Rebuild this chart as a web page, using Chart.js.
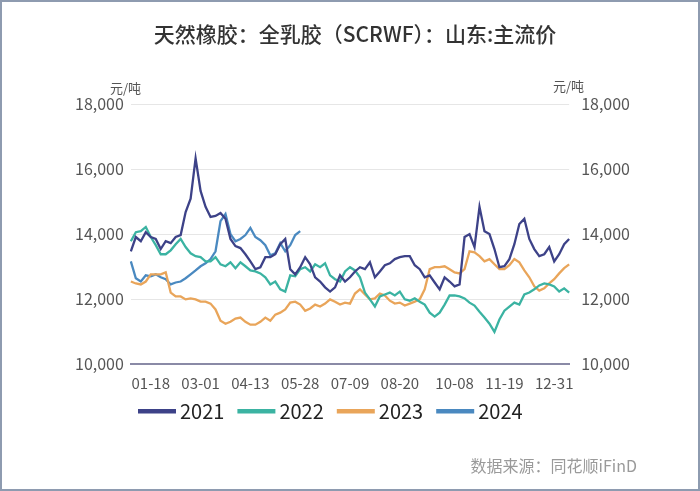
<!DOCTYPE html>
<html>
<head>
<meta charset="utf-8">
<script src="https://cdn.jsdelivr.net/npm/chart.js@4"></script>
<style>
  html, body { margin: 0; padding: 0; background: #fff; }
  #wrap { width: 700px; height: 491px; position: relative; }
</style>
</head>
<body>
<div id="wrap"><canvas id="main-chart" width="700" height="491"></canvas></div>
<script>
const categories = [
  "01-04", "01-07", "01-11", "01-14", "01-18",
  "01-22", "01-26", "01-30", "02-03", "02-08", "02-12", "02-16", "02-20", "02-25", "03-01",
  "03-05", "03-09", "03-14", "03-18", "03-22", "03-27", "03-31", "04-04", "04-09", "04-13",
  "04-17", "04-22", "04-26", "05-01", "05-05", "05-10", "05-14", "05-19", "05-23", "05-28",
  "06-01", "06-05", "06-10", "06-14", "06-18", "06-22", "06-26", "07-01", "07-05", "07-09",
  "07-13", "07-17", "07-22", "07-26", "07-30", "08-03", "08-07", "08-12", "08-16", "08-20",
  "08-24", "08-29", "09-02", "09-06", "09-11", "09-15", "09-19", "09-24", "09-28", "10-03", "10-08",
  "10-12", "10-16", "10-20", "10-24", "10-29", "11-02", "11-06", "11-10", "11-15", "11-19",
  "11-23", "11-27", "12-02", "12-06", "12-10", "12-14", "12-18", "12-22", "12-27", "12-31",
  "01-03", "01-06", "01-09"
];
const tickLabels = ["01-18", "03-01", "04-13", "05-28", "07-09", "08-20", "10-08", "11-19", "12-31"];
const seriesNames = ["2021", "2022", "2023", "2024"];

// 元/吨
const price2021 = [
  13470, 13910, 13780, 14060, 13910, 13850, 13540, 13780, 13720, 13910,
  13970, 14680, 15090, 16330, 15330, 14840, 14530, 14560, 14650, 14470,
  13850, 13630, 13570, 13380, 13160, 12920, 12980, 13290, 13290, 13380,
  13690, 13850, 12920, 12760, 12980, 13290, 13070, 12670, 12540, 12360,
  12230, 12360, 12730, 12540, 12670, 12850, 12980, 12920, 13130, 12670,
  12850, 13040, 13100, 13230, 13290, 13320, 13320, 13040, 12920, 12670,
  12730, 12510, 12300, 12670, 12540, 12390, 12450, 13910, 14000, 13600,
  14840, 14090, 14000, 13540, 12980, 13010, 13230, 13690, 14310, 14470,
  13850, 13540, 13320, 13380, 13600, 13160, 13380, 13690, 13850
];
const price2022 = [
  13780, 14060, 14090, 14220, 13910, 13660, 13380, 13380, 13500, 13690,
  13850, 13600, 13410, 13320, 13290, 13160, 13160, 13290, 13070, 13010,
  13130, 12950, 13130, 13010, 12880, 12850, 12790, 12670, 12450, 12540,
  12300, 12230, 12730, 12700, 12920, 12980, 12850, 13070, 12980, 13100,
  12730, 12610, 12540, 12850, 12980, 12880, 12670, 12200, 11990, 11770,
  12080, 12140, 12200, 12110, 12230, 11990, 11950, 12020, 11920, 11830,
  11580, 11460, 11580, 11830, 12110, 12110, 12080, 12020, 11890, 11800,
  11610, 11430, 11240, 10990, 11370, 11640, 11770, 11890, 11830, 12140,
  12200, 12300, 12420, 12480, 12450, 12390, 12230, 12330, 12200
];
const price2023 = [
  12540, 12480, 12450, 12540, 12760, 12760, 12760, 12820, 12200, 12080,
  12080, 11990, 12020, 11990, 11920, 11920, 11860, 11680, 11330, 11240,
  11300, 11400, 11430, 11300, 11210, 11210, 11300, 11430, 11330, 11520,
  11580, 11680, 11890, 11920, 11830, 11640, 11710, 11830, 11770, 11860,
  11990, 11920, 11830, 11890, 11860, 12170, 12300, 12140, 11990, 12020,
  12170, 12110, 11950, 11860, 11890, 11800, 11860, 11920, 11990, 12300,
  12920, 12980, 12980, 13010, 12920, 12820, 12790, 12920, 13470, 13440,
  13320, 13160, 13230, 13070, 12920, 12920, 13040, 13230, 13130, 12880,
  12670, 12390, 12260, 12330, 12480, 12610, 12790, 12950, 13070
];
const price2024 = [
  13160, 12640, 12540, 12730, 12700, 12760, 12670, 12610, 12450, 12510,
  12540, 12640, 12760, 12880, 13010, 13100, 13230, 13470, 14400, 14620,
  14000, 13780, 13850, 13970, 14190, 13910, 13810, 13660, 13350, 13410,
  13720, 13470, 13660, 13970, 14090
];

const lineColors = ["#3d4288", "#3bb3a2", "#e9a55a", "#4a89c0"];

const fontFamily = "'Noto Sans CJK SC', 'Noto Sans', sans-serif";

const decorPlugin = {
  id: "decor",
  beforeDraw(chart) {
    const { ctx, width, height } = chart;
    ctx.save();
    ctx.fillStyle = "#ffffff";
    ctx.fillRect(0, 0, width, height);
    ctx.strokeStyle = "#8e9bb0";
    ctx.lineWidth = 2;
    ctx.strokeRect(1, 1, width - 2, height - 2);
    ctx.restore();
  },
  afterDraw(chart) {
    const { ctx } = chart;
    ctx.save();
    // units
    ctx.fillStyle = "#555";
    ctx.font = "13px " + fontFamily;
    ctx.textBaseline = "middle";
    ctx.textAlign = "left";
    ctx.fillText("元/吨", 110, 88);
    ctx.fillText("元/吨", 553, 86);

    // legend
    ctx.font = "20px " + fontFamily;
    let x = 138;
    const y = 411;
    chart.data.datasets.forEach(ds => {
      ctx.fillStyle = ds.borderColor;
      ctx.fillRect(x, y - 2, 38, 4.5);
      ctx.fillStyle = "#222";
      ctx.fillText(ds.label, x + 42, y);
      x += 42 + ctx.measureText(ds.label).width + 13;
    });

    // source
    ctx.font = "16px " + fontFamily;
    ctx.fillStyle = "#9a9a9a";
    ctx.textAlign = "right";
    ctx.fillText("数据来源：同花顺iFinD", 637, 466);
    ctx.restore();
  }
};

const allSeries = [price2021, price2022, price2023, price2024];

new Chart(document.getElementById("main-chart"), {
  type: "line",
  data: {
    labels: categories,
    datasets: seriesNames.map((name, i) => ({
      label: name,
      data: allSeries[i],
      borderColor: lineColors[i],
      backgroundColor: lineColors[i],
      borderWidth: 2.3,
      pointRadius: 0,
      tension: 0,
      yAxisID: "y"
    }))
  },
  options: {
    responsive: false,
    animation: false,
    layout: { padding: { left: 68, right: 58, top: 0, bottom: 97 } },
    plugins: {
      legend: { display: false },
      tooltip: { enabled: false },
      title: {
        display: true,
        text: "天然橡胶：全乳胶（SCRWF）：山东:主流价",
        color: "#333",
        font: { family: fontFamily, size: 21, weight: "500" },
        padding: { top: 21, bottom: 58 }
      }
    },
    scales: {
      x: {
        type: "category",
        grid: { display: false },
        border: { display: true, color: "#8a8aa6", width: 2 },
        ticks: {
          autoSkip: false,
          maxRotation: 0,
          padding: 2,
          color: "#555",
          font: { family: fontFamily, size: 15 },
          callback: function (val, idx) {
            const lab = this.getLabelForValue(val);
            return tickLabels.includes(lab) && idx < 86 ? lab : null;
          }
        }
      },
      y: {
        position: "left",
        min: 10000,
        max: 18000,
        grid: { color: "#e6e6e6", drawTicks: false },
        border: { display: false },
        ticks: {
          stepSize: 2000,
          padding: 7,
          color: "#555",
          font: { family: fontFamily, size: 16 }
        }
      },
      y2: {
        position: "right",
        min: 10000,
        max: 18000,
        grid: { display: false, drawTicks: false },
        border: { display: false },
        ticks: {
          stepSize: 2000,
          padding: 12,
          color: "#555",
          font: { family: fontFamily, size: 16 }
        }
      }
    }
  },
  plugins: [decorPlugin]
});
</script>
</body>
</html>
